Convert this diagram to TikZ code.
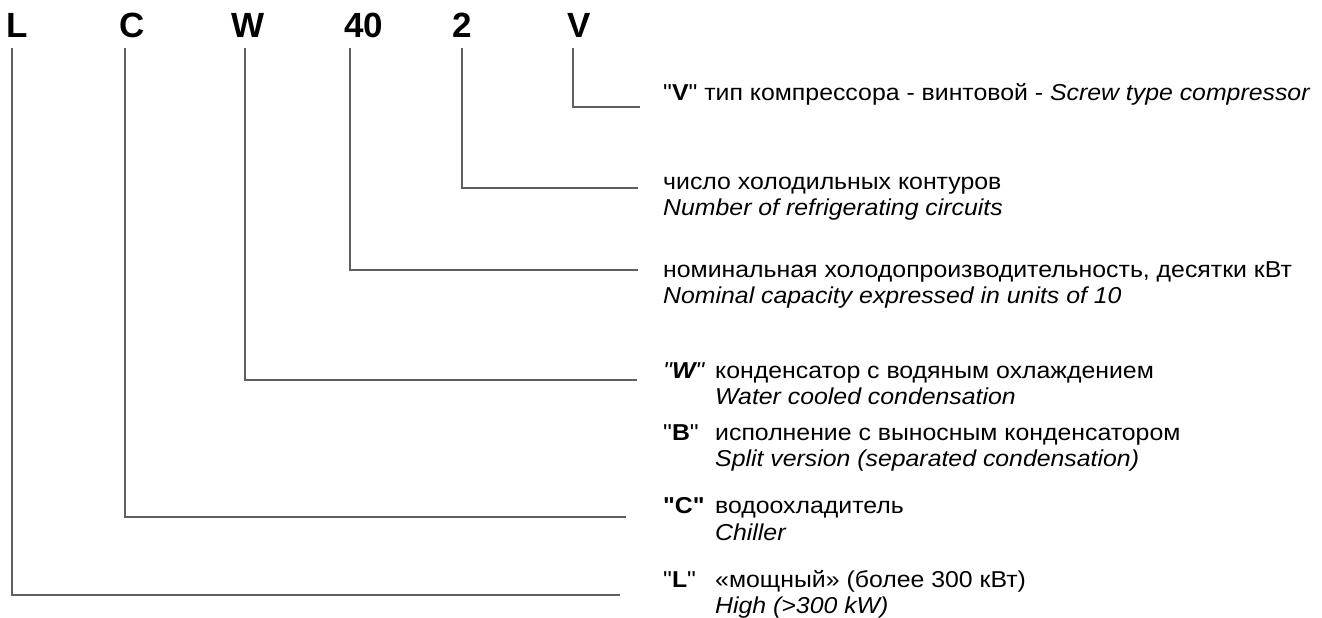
\documentclass[tikz,border=0pt]{standalone}
\usepackage{fontspec}
\newfontfamily\lib{Liberation Sans}[FakeStretch=1.08]
\newfontfamily\libbig{Liberation Sans}
\definecolor{linegray}{RGB}{95,95,95}
\begin{document}
\begin{tikzpicture}[x=1pt,y=-1pt,
  big/.style={font=\libbig\fontsize{35}{35}\selectfont\bfseries, inner sep=0pt, anchor=base west},
  txt/.style={font=\lib\fontsize{23}{23}\selectfont, inner sep=0pt, anchor=base west},
  conn/.style={draw=linegray, line width=2pt}]
\useasboundingbox (0,0) rectangle (1322,618);
% code letters
\node[big] (L) at (6,38) {L};
\node[big] (C) at (119,38) {C};
\node[big] (W) at (231,38) {W};
\node[big] (N40) at (344,38) {40};
\node[big] (N2) at (452,38) {2};
\node[big] (V) at (567,38) {V};
% connector anchor points
\coordinate (sL) at (12,48);   \coordinate (eL) at (620,595);
\coordinate (sC) at (125,48);  \coordinate (eC) at (626,517);
\coordinate (sW) at (245,48);  \coordinate (eW) at (637,380);
\coordinate (s40) at (350,48); \coordinate (e40) at (638,270);
\coordinate (s2) at (462,48);  \coordinate (e2) at (638,188);
\coordinate (sV) at (573,48);  \coordinate (eV) at (640,107);
\draw[conn] (sL) |- (eL);
\draw[conn] (sC) |- (eC);
\draw[conn] (sW) |- (eW);
\draw[conn] (s40) |- (e40);
\draw[conn] (s2) |- (e2);
\draw[conn] (sV) |- (eV);
% descriptions
\node[txt] (tV) at (663,100) {"\textbf{V}" тип компрессора - винтовой - \textit{Screw type compressor}};
\node[txt] (t2a) at (663,189) {число холодильных контуров};
\node[txt] (t2b) at (663,215) {\textit{Number of refrigerating circuits}};
\node[txt] (t40a) at (663,277) {номинальная холодопроизводительность, десятки кВт};
\node[txt] (t40b) at (663,303) {\textit{Nominal capacity expressed in units of 10}};
\node[txt] (kW) at (663,378) {\textit{"\textbf{W}"}};
\node[txt] (tWa) at (715,378) {конденсатор с водяным охлаждением};
\node[txt] (tWb) at (715,404) {\textit{Water cooled condensation}};
\node[txt] (kB) at (663,440) {"\textbf{B}"};
\node[txt] (tBa) at (715,440) {исполнение с выносным конденсатором};
\node[txt] (tBb) at (715,466) {\textit{Split version (separated condensation)}};
\node[txt] (kC) at (663,513) {\textbf{"C"}};
\node[txt] (tCa) at (715,513) {водоохладитель};
\node[txt] (tCb) at (715,540) {\textit{Chiller}};
\node[txt] (kL) at (663,587) {"\textbf{L}"};
\node[txt] (tLa) at (715,587) {«мощный» (более 300 кВт)};
\node[txt] (tLb) at (715,613) {\textit{High (>300 kW)}};
\end{tikzpicture}
\end{document}
